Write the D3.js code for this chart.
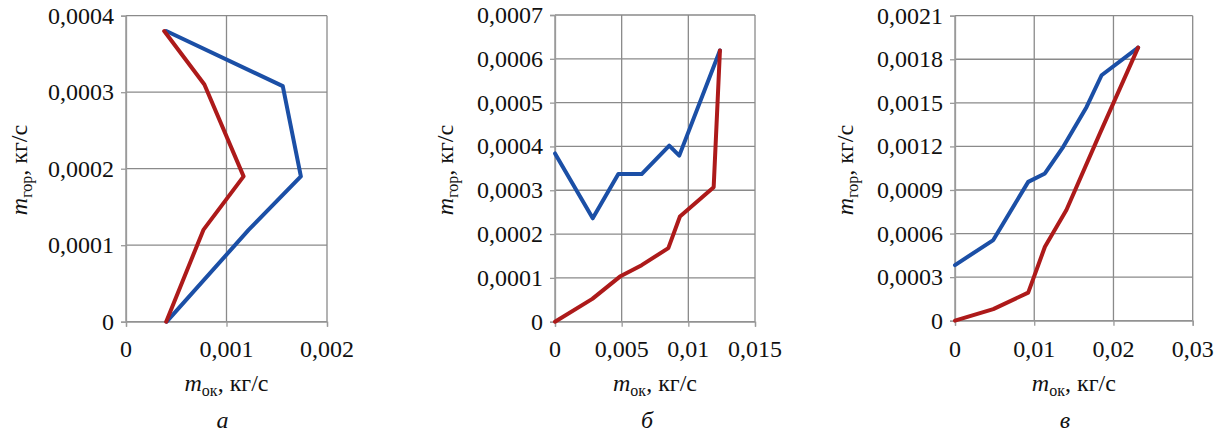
<!DOCTYPE html>
<html>
<head>
<meta charset="utf-8">
<script src="https://cdn.jsdelivr.net/npm/d3@7"></script>
<style>
  html, body { margin: 0; padding: 0; background: #ffffff; }
  svg { display: block; }
</style>
</head>
<body>
<svg id="chart" width="1224" height="439"></svg>
<script>
// ---- Panel а ----
const aBlueX = [0.0004, 0.00156, 0.00174, 0.00122, 0.000405];
const aBlueY = [0.00038, 0.000308, 0.00019, 0.00012, 0];
const aRedX  = [0.00038, 0.00078, 0.00117, 0.00077, 0.0004];
const aRedY  = [0.00038, 0.00031, 0.00019, 0.00012, 0];
const aXTicks = [0, 0.001, 0.002];
const aXLabels = ["0", "0,001", "0,002"];
const aYTicks = [0, 0.0001, 0.0002, 0.0003, 0.0004];
const aYLabels = ["0", "0,0001", "0,0002", "0,0003", "0,0004"];

// ---- Panel б ----
const bBlueX = [0, 0.00283, 0.00475, 0.0065, 0.00857, 0.00932, 0.01237];
const bBlueY = [0.000384, 0.000236, 0.000337, 0.000337, 0.000402, 0.000379, 0.000619];
const bRedX  = [0, 0.0028, 0.00487, 0.0065, 0.0085, 0.00937, 0.0119, 0.01237];
const bRedY  = [0, 0.000052, 0.000103, 0.000129, 0.000168, 0.00024, 0.000307, 0.000619];
const bXTicks = [0, 0.005, 0.01, 0.015];
const bXLabels = ["0", "0,005", "0,01", "0,015"];
const bYTicks = [0, 0.0001, 0.0002, 0.0003, 0.0004, 0.0005, 0.0006, 0.0007];
const bYLabels = ["0", "0,0001", "0,0002", "0,0003", "0,0004", "0,0005", "0,0006", "0,0007"];

// ---- Panel в ----
const cBlueX = [0, 0.00483, 0.00924, 0.01135, 0.01366, 0.01661, 0.0185, 0.02311];
const cBlueY = [0.000383, 0.000555, 0.000956, 0.001014, 0.001197, 0.001472, 0.00169, 0.00188];
const cRedX  = [0, 0.00483, 0.00924, 0.01135, 0.01406, 0.01829, 0.02311];
const cRedY  = [0, 0.00008, 0.000193, 0.000509, 0.000762, 0.00129, 0.00188];
const cXTicks = [0, 0.01, 0.02, 0.03];
const cXLabels = ["0", "0,01", "0,02", "0,03"];
const cYTicks = [0, 0.0003, 0.0006, 0.0009, 0.0012, 0.0015, 0.0018, 0.0021];
const cYLabels = ["0", "0,0003", "0,0006", "0,0009", "0,0012", "0,0015", "0,0018", "0,0021"];

const panelLetters = ["а", "б", "в"];

const BLUE = "#1b4fa6";
const RED = "#ad1a1a";
const GRID = "#8a8a8a";
const FONT = "'Liberation Serif'";

const svg = d3.select("#chart");

function txt(sel, size, italic) {
  return sel.style("font-family", FONT).style("font-size", size + "px")
    .style("font-style", italic ? "italic" : "normal").style("fill", "#111");
}

const panels = [
  { left: 126, right: 327, top: 15.7, bottom: 321.7, titleX: 27, letterDx: -4,
    xt: aXTicks, xl: aXLabels, yt: aYTicks, yl: aYLabels,
    series: [[aBlueX, aBlueY, BLUE], [aRedX, aRedY, RED]], letter: panelLetters[0] },
  { left: 555, right: 755, top: 15, bottom: 321.7, titleX: 453, letterDx: -8,
    xt: bXTicks, xl: bXLabels, yt: bYTicks, yl: bYLabels,
    series: [[bBlueX, bBlueY, BLUE], [bRedX, bRedY, RED]], letter: panelLetters[1] },
  { left: 955, right: 1192.7, top: 15.7, bottom: 320.7, titleX: 853, letterDx: -9,
    xt: cXTicks, xl: cXLabels, yt: cYTicks, yl: cYLabels,
    series: [[cBlueX, cBlueY, BLUE], [cRedX, cRedY, RED]], letter: panelLetters[2] }
];

panels.forEach(p => {
  const x = d3.scaleLinear().domain([p.xt[0], p.xt[p.xt.length - 1]]).range([p.left, p.right]);
  const y = d3.scaleLinear().domain([p.yt[0], p.yt[p.yt.length - 1]]).range([p.bottom, p.top]);

  svg.append("g").selectAll("line").data(p.xt).join("line")
    .attr("x1", d => x(d)).attr("x2", d => x(d))
    .attr("y1", p.top).attr("y2", p.bottom)
    .attr("stroke", GRID).attr("stroke-width", 1.3);
  svg.append("g").selectAll("line").data(p.yt).join("line")
    .attr("x1", p.left).attr("x2", p.right)
    .attr("y1", d => y(d)).attr("y2", d => y(d))
    .attr("stroke", GRID).attr("stroke-width", 1.3);

  const xAxis = d3.axisBottom(x).tickValues(p.xt).tickSize(5).tickFormat("");
  const yAxis = d3.axisLeft(y).tickValues(p.yt).tickSize(5).tickFormat("");
  const gx = svg.append("g").attr("transform", `translate(0,${p.bottom})`).call(xAxis);
  const gy = svg.append("g").attr("transform", `translate(${p.left},0)`).call(yAxis);
  [gx, gy].forEach(ax => {
    ax.select(".domain").attr("stroke", "#9a9a9a").attr("stroke-width", 1.3);
    ax.selectAll(".tick line").attr("stroke", "#9a9a9a").attr("stroke-width", 1.3);
    ax.selectAll(".tick text").remove();
  });

  p.xt.forEach((d, i) => {
    txt(svg.append("text"), 24, false).attr("x", x(d)).attr("y", 357)
      .attr("text-anchor", "middle").text(p.xl[i]);
  });
  p.yt.forEach((d, i) => {
    txt(svg.append("text"), 24, false).attr("x", p.left - 12).attr("y", y(d) + 8)
      .attr("text-anchor", "end").text(p.yl[i]);
  });

  const line = d3.line().x(d => x(d[0])).y(d => y(d[1]));
  p.series.forEach(([xs, ys, col]) => {
    svg.append("path")
      .datum(xs.map((v, i) => [v, ys[i]]))
      .attr("d", line)
      .attr("fill", "none")
      .attr("stroke", col)
      .attr("stroke-width", 4)
      .attr("stroke-linejoin", "round")
      .attr("stroke-linecap", "round");
  });

  const cx = (p.left + p.right) / 2;

  const xTitle = txt(svg.append("text"), 24, false).attr("x", cx).attr("y", 391)
    .attr("text-anchor", "middle");
  txt(xTitle.append("tspan"), 24, true).text("m");
  txt(xTitle.append("tspan"), 16, false).attr("dy", 5).text("ок");
  txt(xTitle.append("tspan"), 24, false).attr("dy", -5).text(", кг/с");

  const yTitle = txt(svg.append("text"), 24, false)
    .attr("transform", `translate(${p.titleX},170) rotate(-90)`)
    .attr("text-anchor", "middle");
  txt(yTitle.append("tspan"), 24, true).text("m");
  txt(yTitle.append("tspan"), 16, false).attr("dy", 5).text("гор");
  txt(yTitle.append("tspan"), 24, false).attr("dy", -5).text(", кг/с");

  txt(svg.append("text"), 24, true).attr("x", cx + p.letterDx).attr("y", 428)
    .attr("text-anchor", "middle").text(p.letter);
});
</script>
</body>
</html>
